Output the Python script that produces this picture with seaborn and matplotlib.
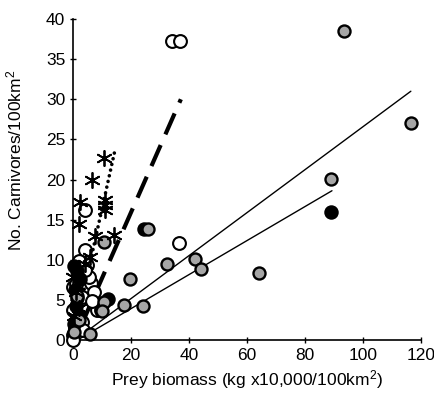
import matplotlib
matplotlib.use("Agg")
import matplotlib.pyplot as plt
import seaborn as sns
import pandas as pd

# ---- data ----
gray_x = [93.5, 116.5, 89, 64, 42, 44, 32.5, 25.8, 19.5, 17.5, 24, 10.7, 10, 6, 10.7, 0.5, 2, 1.5]
gray_y = [38.5, 27.0, 20.1, 8.4, 10.1, 8.9, 9.5, 13.8, 7.6, 4.3, 4.2, 4.7, 3.6, 0.8, 12.2, 1.0, 2.5, 5.5]

black_x = [89, 24.5, 12.2, 0.5, 1.5, 2.5, 0.8, 1.2, 2.0, 0.3, 1.5]
black_y = [15.9, 13.8, 5.1, 9.2, 8.6, 7.6, 6.2, 4.2, 3.0, 2.0, 5.2]

open_x = [34, 36.8, 36.5, 4.1, 4.1, 4.8, 6.2, 7.2, 5.5, 8.3, 3.1, 0.7, 0.0, 3.1, 1.4, 4.1, 0.0, 0.0, 9.5, 2.0, 6.5, 1.0, 3.5, 0.0]
open_y = [37.3, 37.3, 12.1, 16.2, 11.2, 9.4, 7.1, 6.0, 7.8, 3.8, 2.3, 1.5, 0.6, 5.3, 2.9, 8.7, 6.6, 3.8, 3.8, 9.8, 4.8, 7.0, 1.2, 0.0]

star_x = [2.4, 2.0, 6.6, 10.7, 11.0, 11.0, 11.0, 7.6, 14.1, 5.9, 0.0, 1.0, 2.0, 0.5, 4.0]
star_y = [17.2, 14.4, 20.0, 22.7, 17.4, 16.8, 16.2, 12.9, 13.1, 10.3, 7.8, 6.0, 4.0, 3.0, 9.5]

# fitted lines (end points)
fit_gray_x = [1.0, 116.5]
fit_gray_y = [0.07, 31.0]
fit_black_x = [1.0, 89.3]
fit_black_y = [-0.12, 18.6]
fit_open_x = [3.0, 37.2]
fit_open_y = [1.96, 30.0]
fit_star_x = [3.0, 14.5]
fit_star_y = [4.9, 23.7]

x_ticks = [0, 20, 40, 60, 80, 100, 120]
y_ticks = [0, 5, 10, 15, 20, 25, 30, 35, 40]

sns.set_theme(style="white")
plt.rcParams["font.family"] = ["Liberation Sans", "DejaVu Sans"]
plt.rcParams["mathtext.fontset"] = "custom"
plt.rcParams["mathtext.rm"] = "Liberation Sans"
plt.rcParams["mathtext.default"] = "regular"

fig = plt.figure(figsize=(4.35, 3.98), dpi=100)
ax = fig.add_axes([73 / 435, 58 / 398, 348 / 435, 321 / 398])

# lines
sns.lineplot(x=fit_gray_x, y=fit_gray_y, ax=ax, color="black", lw=1.0, zorder=2)
sns.lineplot(x=fit_black_x, y=fit_black_y, ax=ax, color="black", lw=1.0, zorder=2)
ax.plot(fit_open_x, fit_open_y, color="black", lw=3.0, dashes=(5.5, 2.8), zorder=2)
ax.plot(fit_star_x, fit_star_y, color="black", lw=2.6, dashes=(0.01, 1.6),
        dash_capstyle="round", zorder=2)

ms = 85
sns.scatterplot(x=open_x, y=open_y, ax=ax, s=ms, marker="o", facecolor="white",
                edgecolor="black", linewidth=1.5, zorder=3, clip_on=False)
sns.scatterplot(x=black_x, y=black_y, ax=ax, s=ms, marker="o", facecolor="black",
                edgecolor="black", linewidth=1.2, zorder=4, clip_on=False)
sns.scatterplot(x=gray_x, y=gray_y, ax=ax, s=75, marker="o", facecolor="#a6a6a6",
                edgecolor="black", linewidth=1.7, zorder=5, clip_on=False)
sns.scatterplot(x=star_x, y=star_y, ax=ax, s=120, marker=(6, 2, 0), color="black",
                linewidth=1.3, zorder=6, clip_on=False)

ax.set_xlim(0, 120)
ax.set_ylim(0, 40)
ax.set_xticks(x_ticks)
ax.set_yticks(y_ticks)
ax.tick_params(direction="inout", length=5, width=1.0, colors="black",
               labelsize=12.5, bottom=True, left=True, pad=3)
for side in ["top", "right"]:
    ax.spines[side].set_visible(False)
for side in ["left", "bottom"]:
    ax.spines[side].set_color("black")
    ax.spines[side].set_linewidth(1.2)

ax.set_xlabel("Prey biomass (kg x10,000/100km$^2$)", fontsize=12.5, color="black", labelpad=4)
ax.set_ylabel("No. Carnivores/100km$^2$", fontsize=12.5, color="black")
ax.yaxis.set_label_coords(-0.14, 0.56)

fig.savefig("out.png", dpi=100)
